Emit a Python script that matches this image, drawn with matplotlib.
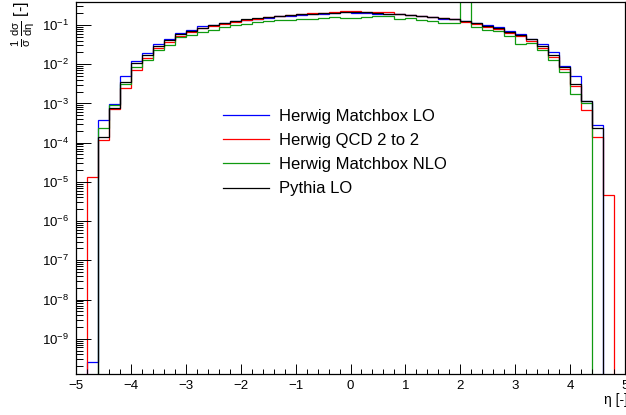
"""Pseudorapidity distribution of the leading jet, four generator setups."""

import matplotlib

matplotlib.use("Agg")
import matplotlib.pyplot as plt
import numpy as np
from matplotlib.ticker import FixedLocator, LogLocator, LogFormatterMathtext, NullFormatter

# 50 bins of width 0.2 between -5 and 5
ETA_EDGES = np.linspace(-5.0, 5.0, 51)

HERWIG_MATCHBOX_LO = [
    0, 2.6e-10, 3.7e-4, 9.5e-4, 4.9e-3, 1.2e-2, 1.95e-2, 3.2e-2, 4.5e-2, 6.2e-2,
    7.3e-2, 9.3e-2, 0.100, 0.115, 0.128, 0.135, 0.143, 0.153, 0.165, 0.172,
    0.180, 0.188, 0.195, 0.198, 0.208, 0.200, 0.198, 0.190, 0.185, 0.185,
    0.175, 0.165, 0.156, 0.145, 0.140, 0.127, 0.114, 0.100, 0.087, 0.070,
    0.058, 0.045, 0.032, 0.020, 8.9e-3, 5.0e-3, 1.12e-3, 2.8e-4, 0, 0,
]
HERWIG_QCD_2TO2 = [
    0, 1.3e-5, 1.17e-4, 7.2e-4, 2.5e-3, 7.3e-3, 1.48e-2, 2.55e-2, 3.6e-2, 5.2e-2,
    6.5e-2, 8.3e-2, 0.094, 0.106, 0.120, 0.135, 0.143, 0.158, 0.173, 0.180,
    0.190, 0.198, 0.205, 0.215, 0.230, 0.230, 0.218, 0.213, 0.208, 0.190,
    0.180, 0.173, 0.162, 0.150, 0.142, 0.122, 0.104, 0.090, 0.078, 0.063,
    0.053, 0.038, 0.0255, 0.015, 7.6e-3, 2.8e-3, 6.9e-4, 1.38e-4, 4.5e-6, 0,
]
HERWIG_MATCHBOX_NLO = [
    0, 0, 2.3e-4, 9.0e-4, 3.1e-3, 8.5e-3, 1.26e-2, 2.3e-2, 3.0e-2, 4.9e-2,
    5.6e-2, 6.6e-2, 7.5e-2, 8.7e-2, 0.098, 0.108, 0.119, 0.126, 0.131, 0.137,
    0.140, 0.145, 0.150, 0.157, 0.150, 0.148, 0.160, 0.170, 0.174, 0.145,
    0.148, 0.133, 0.126, 0.115, 0.113, 0.600, 0.087, 0.073, 0.069, 0.053,
    0.0335, 0.0355, 0.023, 0.0128, 6.5e-3, 1.7e-3, 1.0e-3, 0, 0, 0,
]
PYTHIA_LO = [
    0, 0, 1.4e-4, 7.5e-4, 3.5e-3, 1.05e-2, 1.76e-2, 2.9e-2, 4.15e-2, 5.8e-2,
    7.0e-2, 8.3e-2, 0.098, 0.112, 0.128, 0.139, 0.148, 0.160, 0.168, 0.176,
    0.185, 0.193, 0.200, 0.205, 0.218, 0.215, 0.210, 0.200, 0.196, 0.190,
    0.180, 0.173, 0.160, 0.148, 0.142, 0.129, 0.110, 0.095, 0.084, 0.068,
    0.057, 0.043, 0.029, 0.0176, 8.5e-3, 3.1e-3, 1.12e-3, 2.3e-4, 0, 0,
]

SERIES = [
    ("Herwig Matchbox LO", HERWIG_MATCHBOX_LO, "#0000ff"),
    ("Herwig QCD 2 to 2", HERWIG_QCD_2TO2, "#ff0000"),
    ("Herwig Matchbox NLO", HERWIG_MATCHBOX_NLO, "#109a10"),
    ("Pythia LO", PYTHIA_LO, "#000000"),
]

Y_MIN, Y_MAX = 1.3e-10, 0.385


def main() -> None:
    plt.rcParams["font.family"] = ["Liberation Sans", "DejaVu Sans"]
    plt.rcParams["mathtext.fontset"] = "custom"
    plt.rcParams["mathtext.rm"] = "Liberation Sans"
    plt.rcParams["mathtext.it"] = "Liberation Sans"
    plt.rcParams["mathtext.sf"] = "Liberation Sans"

    fig = plt.figure(figsize=(6.26, 4.15), dpi=100)
    ax = fig.add_axes([76 / 626, 1 - 373.5 / 415, 549 / 626, 371.5 / 415])

    for label, values, color in SERIES:
        vals = np.asarray(values, dtype=float)
        # empty bins fall to the bottom of the frame, as in ROOT
        vals = np.where(vals > 0, vals, Y_MIN * 1e-3)
        ax.stairs(vals, ETA_EDGES, color=color, lw=0.9, label=label,
                  baseline=Y_MIN * 1e-3)

    ax.set_yscale("log")
    ax.set_xlim(-5, 5)
    ax.set_ylim(Y_MIN, Y_MAX)

    ax.xaxis.set_major_locator(FixedLocator(np.arange(-5, 6, 1)))
    ax.xaxis.set_minor_locator(FixedLocator(np.arange(-5, 5.01, 0.2)))
    ax.set_xticklabels([f"{v:d}".replace("-", "\u2212") for v in range(-5, 6)])
    ax.yaxis.set_major_locator(LogLocator(base=10, numticks=20))
    ax.yaxis.set_major_formatter(LogFormatterMathtext())
    ax.yaxis.set_minor_locator(LogLocator(base=10, subs=np.arange(2, 10), numticks=20))
    ax.yaxis.set_minor_formatter(NullFormatter())

    ax.tick_params(axis="x", which="major", direction="in", length=7.2, width=0.7,
                   labelsize=9.5, pad=5)
    ax.tick_params(axis="x", which="minor", direction="in", length=3.6, width=0.7)
    ax.tick_params(axis="y", which="major", direction="in", length=10.8, width=0.7,
                   labelsize=9.5, pad=5)
    ax.tick_params(axis="y", which="minor", direction="in", length=5.0, width=0.7)
    for spine in ax.spines.values():
        spine.set_linewidth(0.9)

    fig.text(1.003, 1 - 400 / 415, "\u03b7 [-]", ha="right", va="center", fontsize=10)
    fig.text(23 / 626, 0.997,
             r"$\frac{1}{\sigma}\,\frac{\mathrm{d}\sigma}{\mathrm{d}\eta}$ [-]",
             rotation=90, ha="center", va="top", fontsize=11.5)

    leg = ax.legend(loc="upper left", bbox_to_anchor=(222.7 / 626, 1 - 109 / 415),
                    bbox_transform=fig.transFigure, frameon=False, fontsize=12,
                    handlelength=2.75, handletextpad=0.6, labelspacing=0.55,
                    borderpad=0, borderaxespad=0)
    for line in leg.get_lines():
        line.set_linewidth(0.9)

    fig.savefig("out.png", dpi=100)
    plt.close(fig)


if __name__ == "__main__":
    main()
